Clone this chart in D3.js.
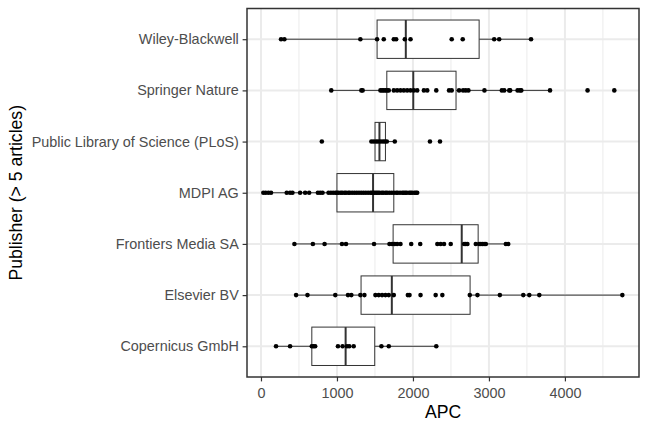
<!DOCTYPE html>
<html><head><meta charset="utf-8">
<script src="https://cdn.jsdelivr.net/npm/d3@7"></script>
<style>body{margin:0;background:#fff}svg{display:block}text{font-family:"Liberation Sans",Arial,sans-serif}</style>
</head><body><svg id="c" width="648" height="432"></svg>
<script>
const publishers = ["Wiley-Blackwell","Springer Nature","Public Library of Science (PLoS)","MDPI AG","Frontiers Media SA","Elsevier BV","Copernicus GmbH"];
const boxLow    = [264, 925, 1453, 31, 440, 462, 198];
const boxQ1     = [1528, 1656, 1501, 1000, 1739, 1317, 669];
const boxMedian = [1906, 2004, 1559, 1475, 2642, 1722, 1114];
const boxQ3     = [2871, 2567, 1638, 1748, 2858, 2752, 1497];
const boxHigh   = [3554, 3804, 1761, 2056, 3254, 4756, 2307];
const apcWiley = [264, 308, 1308, 1528, 1616, 1748, 1779, 1893, 1968, 2510, 2655, 3069, 3135, 3554];
const apcSpringer = [925, 1321, 1338, 1572, 1594, 1616, 1638, 1660, 1682, 1748, 1792, 1836, 1880, 1924, 1968, 2012, 2056, 2144, 2188, 2307, 2475, 2510, 2607, 2660, 2695, 2730, 2941, 3170, 3201, 3267, 3280, 3377, 3408, 3426, 3804, 4298, 4650];
const apcPlos = [801, 1453, 1484, 1515, 1541, 1572, 1603, 1629, 1656, 1761, 2224, 2356];
const apcMdpi = [31, 62, 97, 132, 339, 383, 414, 515, 581, 634, 749, 779, 810, 889, 920, 950, 980, 1000, 1020, 1050, 1070, 1100, 1120, 1150, 1170, 1200, 1230, 1260, 1290, 1320, 1350, 1380, 1410, 1440, 1460, 1480, 1500, 1520, 1540, 1560, 1590, 1610, 1640, 1660, 1690, 1720, 1750, 1780, 1800, 1830, 1860, 1880, 1900, 1920, 1950, 1970, 1990, 2020, 2040, 2056];
const apcFrontiers = [440, 683, 837, 1066, 1119, 1488, 1691, 1726, 1761, 1792, 1836, 1977, 2096, 2321, 2365, 2409, 2497, 2673, 2695, 2717, 2827, 2871, 2893, 2915, 2937, 2959, 3223, 3254];
const apcElsevier = [462, 612, 978, 1145, 1189, 1308, 1361, 1506, 1550, 1594, 1638, 1682, 1748, 1933, 1955, 2100, 2299, 2387, 2748, 2849, 3144, 3452, 3531, 3663, 4756];
const apcCopernicus = [198, 383, 669, 691, 713, 1013, 1074, 1132, 1162, 1220, 1585, 1682, 2307];
const apcLists = [apcWiley, apcSpringer, apcPlos, apcMdpi, apcFrontiers, apcElsevier, apcCopernicus];
const xTicks = [0, 1000, 2000, 3000, 4000];
const xMinor = [500, 1500, 2500, 3500, 4500];

const L = 247, R = 639, T = 8.5, B = 377;
const svg = d3.select("#c");
const x = d3.scaleLinear().domain([-184, 4975]).range([L, R]);
const y = d3.scalePoint().domain(publishers).range([T, B]).padding(0.6);
const bh = y.step() * 0.75;

svg.append("rect").attr("x", L).attr("y", T).attr("width", R - L).attr("height", B - T).attr("fill", "#fff");
const g = svg.append("g");
g.selectAll(".mn").data(xMinor).join("line").attr("x1", d => x(d)).attr("x2", d => x(d)).attr("y1", T).attr("y2", B).attr("stroke", "#ebebeb").attr("stroke-width", 1);
g.selectAll(".mj").data(xTicks).join("line").attr("x1", d => x(d)).attr("x2", d => x(d)).attr("y1", T).attr("y2", B).attr("stroke", "#ebebeb").attr("stroke-width", 2);
g.selectAll(".hy").data(publishers).join("line").attr("x1", L).attr("x2", R).attr("y1", d => y(d)).attr("y2", d => y(d)).attr("stroke", "#ebebeb").attr("stroke-width", 2);

const rows = publishers.map((p, i) => ({p, lo: boxLow[i], q1: boxQ1[i], med: boxMedian[i], q3: boxQ3[i], hi: boxHigh[i], pts: apcLists[i]}));
const bx = svg.selectAll(".bx").data(rows).join("g");
bx.append("line").attr("x1", d => x(d.lo)).attr("x2", d => x(d.q1)).attr("y1", d => y(d.p)).attr("y2", d => y(d.p)).attr("stroke", "#333").attr("stroke-width", 1);
bx.append("line").attr("x1", d => x(d.q3)).attr("x2", d => x(d.hi)).attr("y1", d => y(d.p)).attr("y2", d => y(d.p)).attr("stroke", "#333").attr("stroke-width", 1);
bx.append("rect").attr("x", d => x(d.q1)).attr("width", d => x(d.q3) - x(d.q1)).attr("y", d => y(d.p) - bh / 2).attr("height", bh).attr("fill", "#fff").attr("stroke", "#333").attr("stroke-width", 1);
bx.append("line").attr("x1", d => x(d.med)).attr("x2", d => x(d.med)).attr("y1", d => y(d.p) - bh / 2).attr("y2", d => y(d.p) + bh / 2).attr("stroke", "#333").attr("stroke-width", 2);

rows.forEach(r => {
  svg.append("g").selectAll("circle").data(r.pts).join("circle").attr("cx", d => x(d)).attr("cy", y(r.p)).attr("r", 2.3).attr("fill", "#000");
});

svg.append("rect").attr("x", L).attr("y", T).attr("width", R - L).attr("height", B - T).attr("fill", "none").attr("stroke", "#333").attr("stroke-width", 1.5);

const xa = svg.append("g").attr("transform", `translate(0,${B})`).call(d3.axisBottom(x).tickValues(xTicks).tickFormat(d3.format("d")).tickSize(4.4).tickPadding(6.6));
const ya = svg.append("g").attr("transform", `translate(${L},0)`).call(d3.axisLeft(y).tickSize(4.4).tickPadding(3.8));
[xa, ya].forEach(a => {
  a.select(".domain").remove();
  a.selectAll(".tick line").attr("stroke", "#333").attr("stroke-width", 1.2);
  a.selectAll(".tick text").attr("fill", "#4d4d4d").style("font-size", "14.4px").style("font-family", '"Liberation Sans",Arial,sans-serif');
});
svg.append("text").attr("x", (L + R) / 2).attr("y", 418).attr("text-anchor", "middle").style("font-size", "17.6px").attr("fill", "#000").text("APC");
svg.append("text").attr("transform", `translate(22,${(T + B) / 2}) rotate(-90)`).attr("text-anchor", "middle").style("font-size", "17.6px").attr("fill", "#000").text("Publisher (> 5 articles)");
</script></body></html>
